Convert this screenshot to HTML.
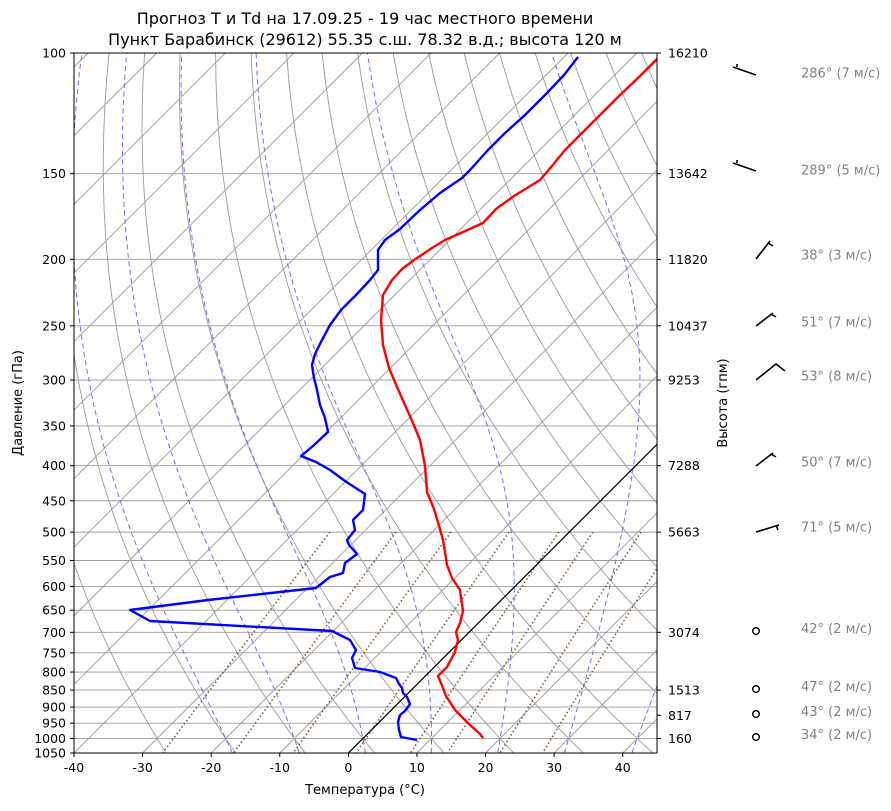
<!DOCTYPE html>
<html><head><meta charset="utf-8"><style>
body{margin:0;background:#fff}
svg text{font-family:"DejaVu Sans","Liberation Sans",sans-serif}
</style></head><body>
<svg id="s" width="891" height="806" xmlns="http://www.w3.org/2000/svg">
<rect width="891" height="806" fill="#fff"/>
<defs><clipPath id="c"><rect x="74" y="53" width="583" height="700"/></clipPath></defs>
<g id="g" clip-path="url(#c)"></g>
<g id="fg"></g>
<text x="365" y="24" font-size="16" text-anchor="middle">Прогноз T и Td на 17.09.25 - 19 час местного времени</text>
<text x="365" y="45" font-size="16" text-anchor="middle">Пункт Барабинск (29612) 55.35 с.ш. 78.32 в.д.; высота 120 м</text>
<text x="365" y="794" font-size="13" text-anchor="middle">Температура (°C)</text>
<text transform="translate(22,403) rotate(-90)" font-size="13" text-anchor="middle">Давление (гПа)</text>
<text transform="translate(727,403) rotate(-90)" font-size="13" text-anchor="middle">Высота (гпм)</text>
</svg>
<script>
var NS="http://www.w3.org/2000/svg",g=document.getElementById('g'),fg=document.getElementById('fg');
function Y(p){return 53+Math.log(p/100)/Math.log(10.5)*700}
function X(T,p){return 74+(T+40)*6.859+(753-Y(p))}
function el(par,t,a,txt){var e=document.createElementNS(NS,t);for(var k in a)e.setAttribute(k,a[k]);if(txt!=null)e.textContent=txt;par.appendChild(e);return e}
function path(pts){return 'M'+pts.map(function(q){return q[0].toFixed(1)+','+q[1].toFixed(1)}).join('L')}
var P=[];for(var p=1050;p>=100;p-=10)P.push(p);
for(var T=-150;T<=50;T+=10)el(g,'line',{x1:X(T,1050),y1:753,x2:X(T,100),y2:53,stroke:'#999','stroke-width':0.9});
var pt=[100,150,200,250,300,350,400,450,500,550,600,650,700,750,800,850,900,950,1000,1050];
pt.forEach(function(p){el(g,'line',{x1:74,x2:657,y1:Y(p),y2:Y(p),stroke:'#999','stroke-width':0.9})});
for(var th=-30;th<=200;th+=10){var pts=P.map(function(p){var Tk=(th+273.15)*Math.pow(p/1000,0.286);return [X(Tk-273.15,p),Y(p)]});el(g,'path',{d:path(pts),fill:'none',stroke:'#999','stroke-width':0.9})}
function dTdp(T,p){var Tc=T-273.15,es=6.112*Math.exp(17.67*Tc/(Tc+243.5)),rs=0.622*es/(p-es);return (287.04*T+2.501e6*rs)/(p*(1005.7+2.501e6*2.501e6*rs*0.622/(287.04*T*T)))}
function moist(t0){var T=t0+273.15,p=1000,dp=-2;var up=[[X(t0,1000),Y(1000)]];while(p>100){var k1=dTdp(T,p),k2=dTdp(T+k1*dp,p+dp);T+=0.5*(k1+k2)*dp;p+=dp;up.push([X(T-273.15,p),Y(p)])}
T=t0+273.15;p=1000;var dn=[];while(p<1050){dp=2;var k1=dTdp(T,p),k2=dTdp(T+k1*dp,p+dp);T+=0.5*(k1+k2)*dp;p+=dp;dn.push([X(T-273.15,p),Y(p)])}return dn.reverse().concat(up)}
for(var t0=-20;t0<=45;t0+=10)el(g,'path',{d:path(moist(t0)),fill:'none',stroke:'#6b6bff','stroke-width':1,'stroke-dasharray':'5,3.5'});
[330,396,451,509,559,593,641,680].forEach(function(xt){var Td=(xt-74-(753-Y(500)))/6.859-40;var e=6.112*Math.exp(17.67*Td/(Td+243.5));var w=0.622*e/(500-e);var pts=[];for(var p=500;p<=1050;p+=10){var ee=w*p/(0.622+w),l=Math.log(ee/6.112),td=243.5*l/(17.67-l);pts.push([X(td,p),Y(p)])}el(g,'path',{d:path(pts),fill:'none',stroke:'#8b5a2b','stroke-width':1.6,'stroke-dasharray':'1.5,2.5'})});
el(g,'line',{x1:X(0,1050),y1:753,x2:X(0,100),y2:53,stroke:'#000','stroke-width':1.2});
var red=[[483,738],[480,734],[470,725],[455,710],[446,696],[441,683],[438,676],[447,667],[455,652],[458,640],[456,632],[460,623],[463,611],[461,597],[460,590],[452,578],[447,565],[445,552],[443,540],[438,522],[434,509],[427,492],[425,466],[420,440],[413,423],[405,405],[397,387],[389,368],[383,345],[381,320],[383,295],[392,280],[402,269],[414,260],[432,248],[445,240],[463,232],[483,223],[496,209],[514,196],[540,180],[552,166],[565,150],[580,135],[600,115],[620,95],[640,76],[660,56]];
var blue=[[417,740],[401,737],[399,730],[398,722],[400,715],[405,711],[410,704],[407,697],[403,693],[402,688],[399,684],[396,678],[380,672],[355,668],[352,658],[356,650],[350,640],[332,631],[150,621],[130,610],[208,600],[316,588],[330,577],[343,573],[345,563],[357,554],[349,545],[347,540],[355,530],[353,520],[363,510],[365,494],[345,481],[330,470],[316,462],[301,456],[313,446],[328,432],[325,418],[320,405],[317,390],[314,378],[312,365],[315,354],[322,340],[330,325],[341,310],[356,295],[370,280],[378,270],[378,259],[378,250],[385,240],[400,229],[420,210],[440,193],[462,178],[470,170],[488,150],[505,133],[525,115],[545,95],[564,75],[578,57]];
el(g,'path',{d:path(red),fill:'none',stroke:'#f00','stroke-width':2.4,'stroke-linejoin':'round'});
el(g,'path',{d:path(blue),fill:'none',stroke:'#00f','stroke-width':2.4,'stroke-linejoin':'round'});
el(fg,'rect',{x:74,y:53,width:583,height:700,fill:'none',stroke:'#000','stroke-width':1});
pt.forEach(function(p){var y=Y(p);el(fg,'line',{x1:70,x2:74,y1:y,y2:y,stroke:'#000'});el(fg,'text',{x:66,y:y+4.5,'font-size':12.5,'text-anchor':'end'},p)});
for(var T=-40;T<=40;T+=10){var x=74+(T+40)*6.859;el(fg,'line',{x1:x,x2:x,y1:753,y2:757,stroke:'#000'});el(fg,'text',{x:x,y:772,'font-size':12.5,'text-anchor':'middle'},T)}
[[100,16210],[150,13642],[200,11820],[250,10437],[300,9253],[400,7288],[500,5663],[700,3074],[850,1513],[925,817],[1000,160]].forEach(function(a){var y=Y(a[0]);el(fg,'line',{x1:657,x2:661,y1:y,y2:y,stroke:'#000'});el(fg,'text',{x:668,y:y+4.5,'font-size':12.5},a[1])});
var W=[[73,'286° (7 м/с)','M733,67L756,75M737,67L737,64'],[170,'289° (5 м/с)','M733,163L756,171M737,163L737,160'],[255,'38° (3 м/с)','M756,259L770,241M768,243L773,246'],[322,'51° (7 м/с)','M756,326L773,313M771,314L776,317'],[376,'53° (8 м/с)','M756,380L776,364L785,371'],[462,'50° (7 м/с)','M756,466L773,453M771,454L776,457'],[527,'71° (5 м/с)','M756,532L779,525M776,525L778,530']];
W.forEach(function(w){el(fg,'path',{d:w[2],fill:'none',stroke:'#000','stroke-width':1.6});el(fg,'text',{x:801,y:w[0]+4.5,'font-size':13,fill:'#808080'},w[1])});
[[631,'42° (2 м/с)'],[689,'47° (2 м/с)'],[714,'43° (2 м/с)'],[737,'34° (2 м/с)']].forEach(function(w){el(fg,'circle',{cx:756,cy:w[0],r:3.3,fill:'none',stroke:'#000','stroke-width':1.4});el(fg,'text',{x:801,y:w[0]+2,'font-size':13,fill:'#808080'},w[1])});
</script>
</body></html>
